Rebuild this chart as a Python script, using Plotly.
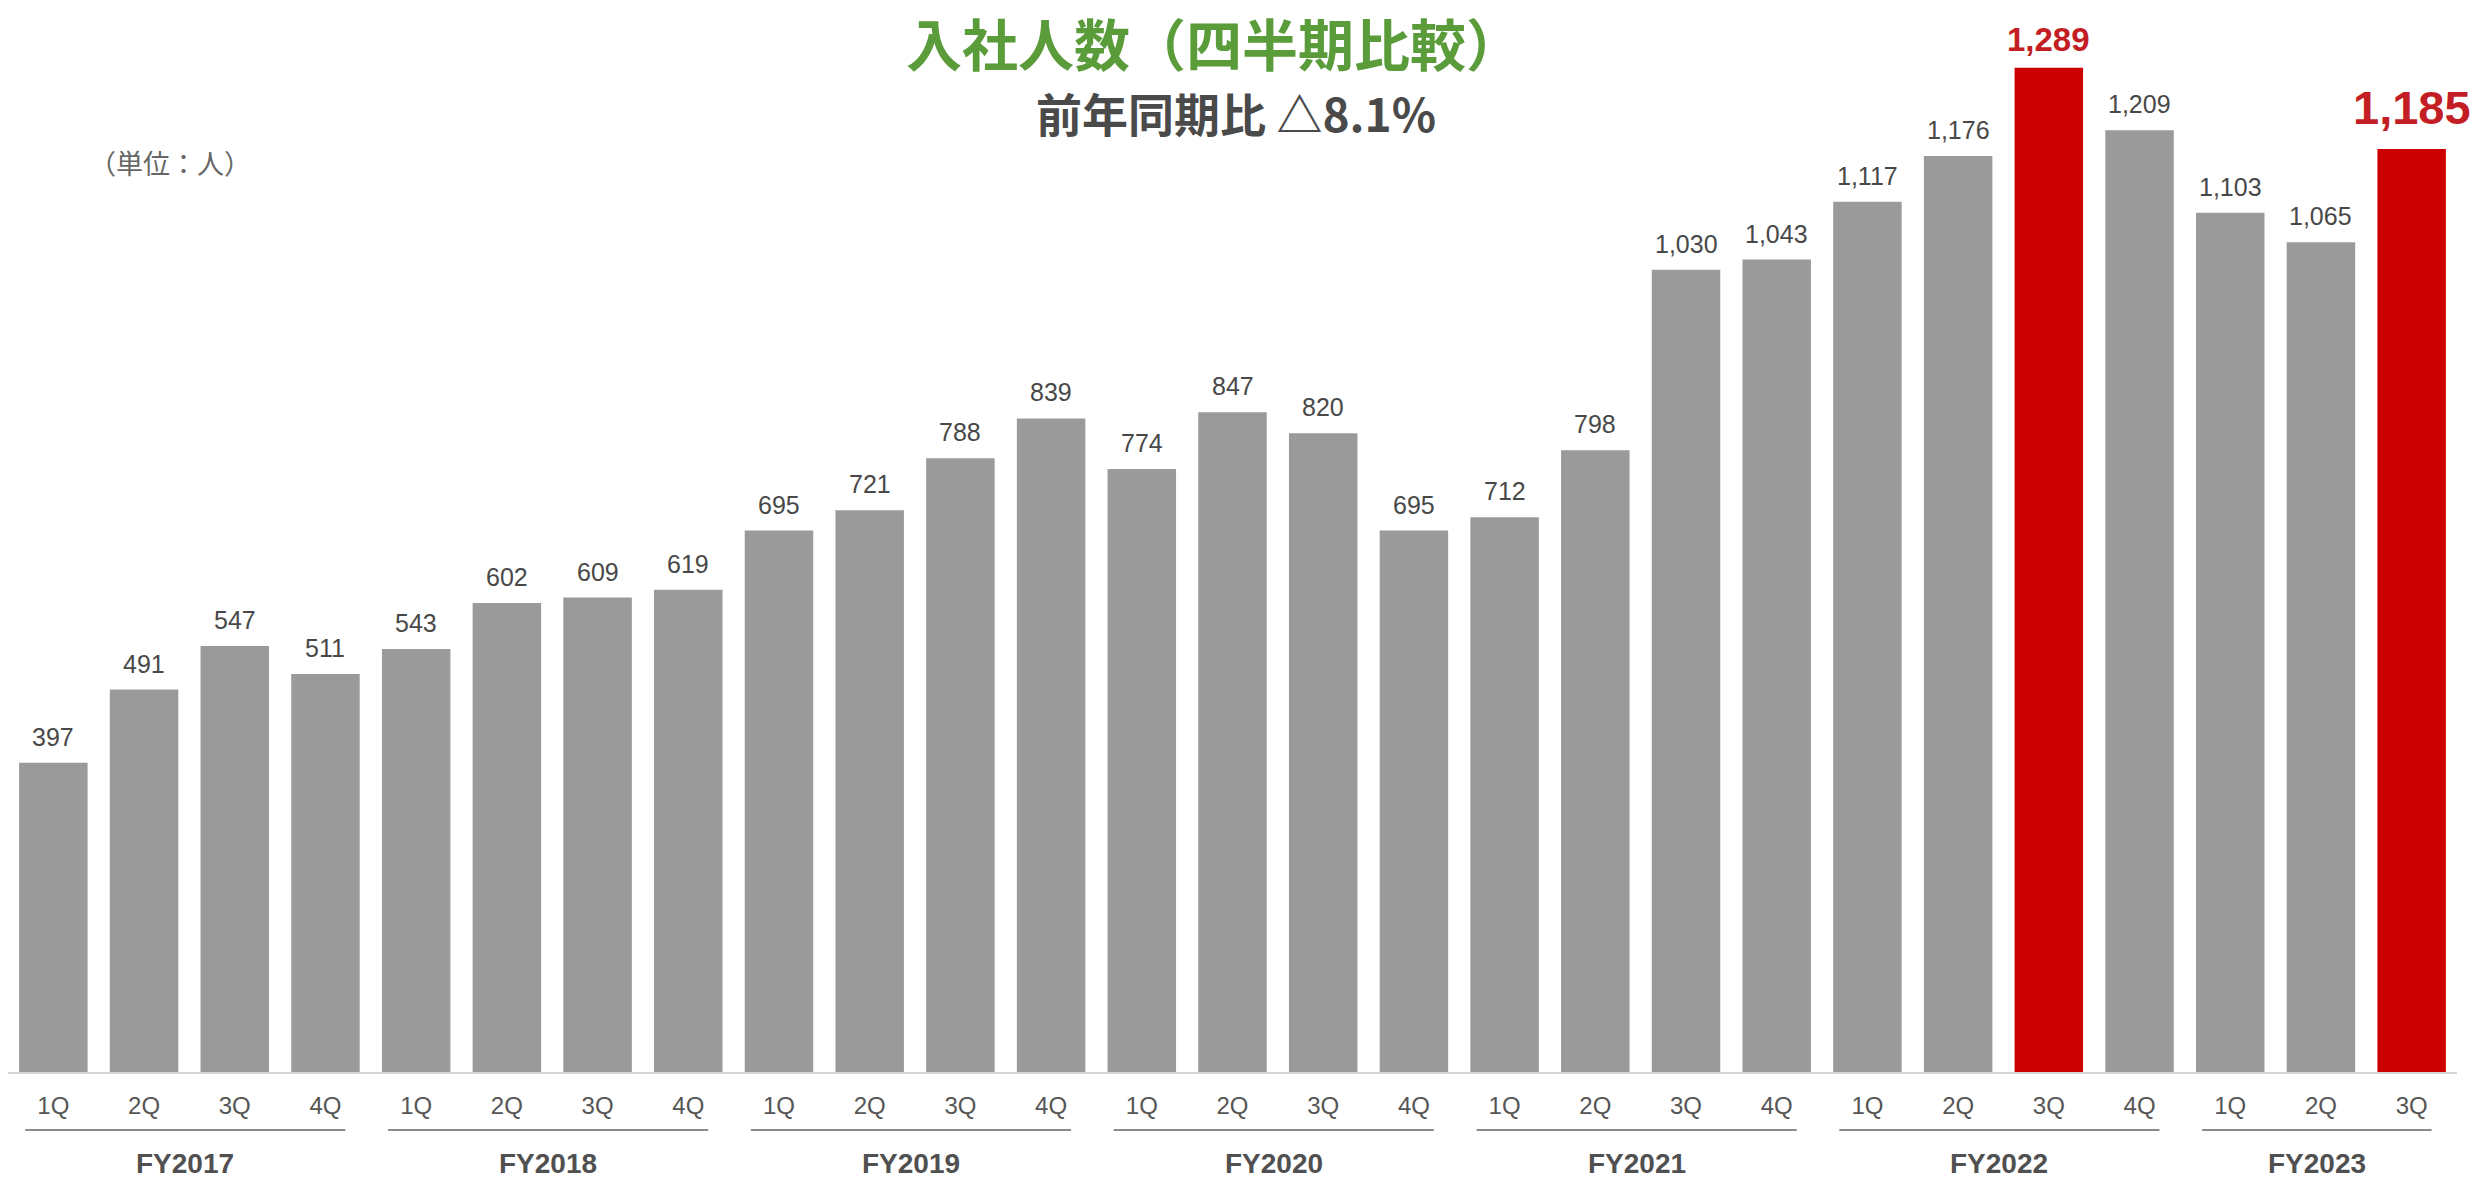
import plotly.graph_objects as go

# Quarterly new hires, FY2017 1Q - FY2023 3Q
fiscal_years = ["FY2017", "FY2018", "FY2019", "FY2020", "FY2021", "FY2022", "FY2023"]
quarters_per_year = [4, 4, 4, 4, 4, 4, 3]
quarter_names = ["1Q", "2Q", "3Q", "4Q"]
hires = [397, 491, 547, 511,
         543, 602, 609, 619,
         695, 721, 788, 839,
         774, 847, 820, 695,
         712, 798, 1030, 1043,
         1117, 1176, 1289, 1209,
         1103, 1065, 1185]
highlighted = [("FY2022", "3Q"), ("FY2023", "3Q")]

title_text = "入社人数（四半期比較）"
subtitle_text = "前年同期比 △8.1%"
unit_text = "（単位：人）"

# per-bar year / quarter labels
bar_years, bar_quarters = [], []
for fy, n in zip(fiscal_years, quarters_per_year):
    bar_years += [fy] * n
    bar_quarters += quarter_names[:n]
idx = list(range(len(hires)))

GRAY = "#9a9a9a"
RED = "#cc0000"
RED_TEXT = "#c41e25"
LATIN = "Liberation Sans, Arial, sans-serif"
CJK = "Noto Sans CJK JP, sans-serif"

W, H = 2477, 1182
ML, MR, MT, MB = 8, 20, 0, 110
PW, PH = W - ML - MR, H - MT - MB
PX_PER_UNIT = 0.779


def paper_x(px):
    return (px - ML) / PW


def paper_y(py):
    return (H - MB - py) / PH


is_hi = [(y, q) in highlighted for y, q in zip(bar_years, bar_quarters)]
colors = [RED if h else GRAY for h in is_hi]

fig = go.Figure(go.Bar(
    x=idx, y=hires, marker=dict(color=colors, line=dict(width=0)),
    width=0.755, hoverinfo="skip",
))

annotations = []
# value labels above each bar
for i, (v, h) in enumerate(zip(hires, is_hi)):
    if h:
        size = 47 if i == len(hires) - 1 else 33
        shift = 13 if size > 40 else 8
        font = dict(family=LATIN, size=size, color=RED_TEXT, weight="bold")
    else:
        shift = 10
        font = dict(family=LATIN, size=25, color="#484848")
    annotations.append(dict(x=i, y=v, xref="x", yref="y", text=f"{v:,}",
                            showarrow=False, yanchor="bottom", yshift=shift, font=font))

# fiscal-year group underline + label
shapes = []
start = 0
for fy, n in zip(fiscal_years, quarters_per_year):
    x0, x1 = start - 0.31, start + n - 1 + 0.22
    shapes.append(dict(type="line", xref="x", yref="paper", x0=x0, x1=x1,
                       y0=paper_y(1130), y1=paper_y(1130),
                       line=dict(color="#8c8c8c", width=2)))
    annotations.append(dict(x=(x0 + x1) / 2, y=paper_y(1163), xref="x", yref="paper",
                            text=fy, showarrow=False, yanchor="middle",
                            font=dict(family=LATIN, size=28, color="#505050", weight="bold")))
    start += n

annotations += [
    dict(x=paper_x(1214), y=paper_y(41), xref="paper", yref="paper", text=title_text,
         showarrow=False, xanchor="center", yanchor="middle",
         font=dict(family=CJK, size=56, color="#5a9b3a", weight="bold")),
    dict(x=paper_x(1236), y=paper_y(112), xref="paper", yref="paper", text=subtitle_text,
         showarrow=False, xanchor="center", yanchor="middle",
         font=dict(family=CJK, size=46, color="#4a4a4a", weight="bold")),
    dict(x=paper_x(170), y=paper_y(162), xref="paper", yref="paper", text=unit_text,
         showarrow=False, xanchor="center", yanchor="middle",
         font=dict(family=CJK, size=27, color="#666666")),
]

fig.update_layout(
    width=W, height=H,
    margin=dict(l=ML, r=MR, t=MT, b=MB, pad=0),
    paper_bgcolor="white", plot_bgcolor="white",
    showlegend=False,
    annotations=annotations, shapes=shapes,
    xaxis=dict(range=[-0.5, len(hires) - 0.5], tickmode="array", tickvals=idx,
               ticktext=bar_quarters, showgrid=False, zeroline=False,
               showline=True, linecolor="#d6d6d6", linewidth=2, ticks="",
               ticklabelstandoff=11,
               tickfont=dict(family=LATIN, size=24, color="#555555")),
    yaxis=dict(range=[0, PH / PX_PER_UNIT], visible=False, showgrid=False, zeroline=False),
)

fig.write_html("out.html")
